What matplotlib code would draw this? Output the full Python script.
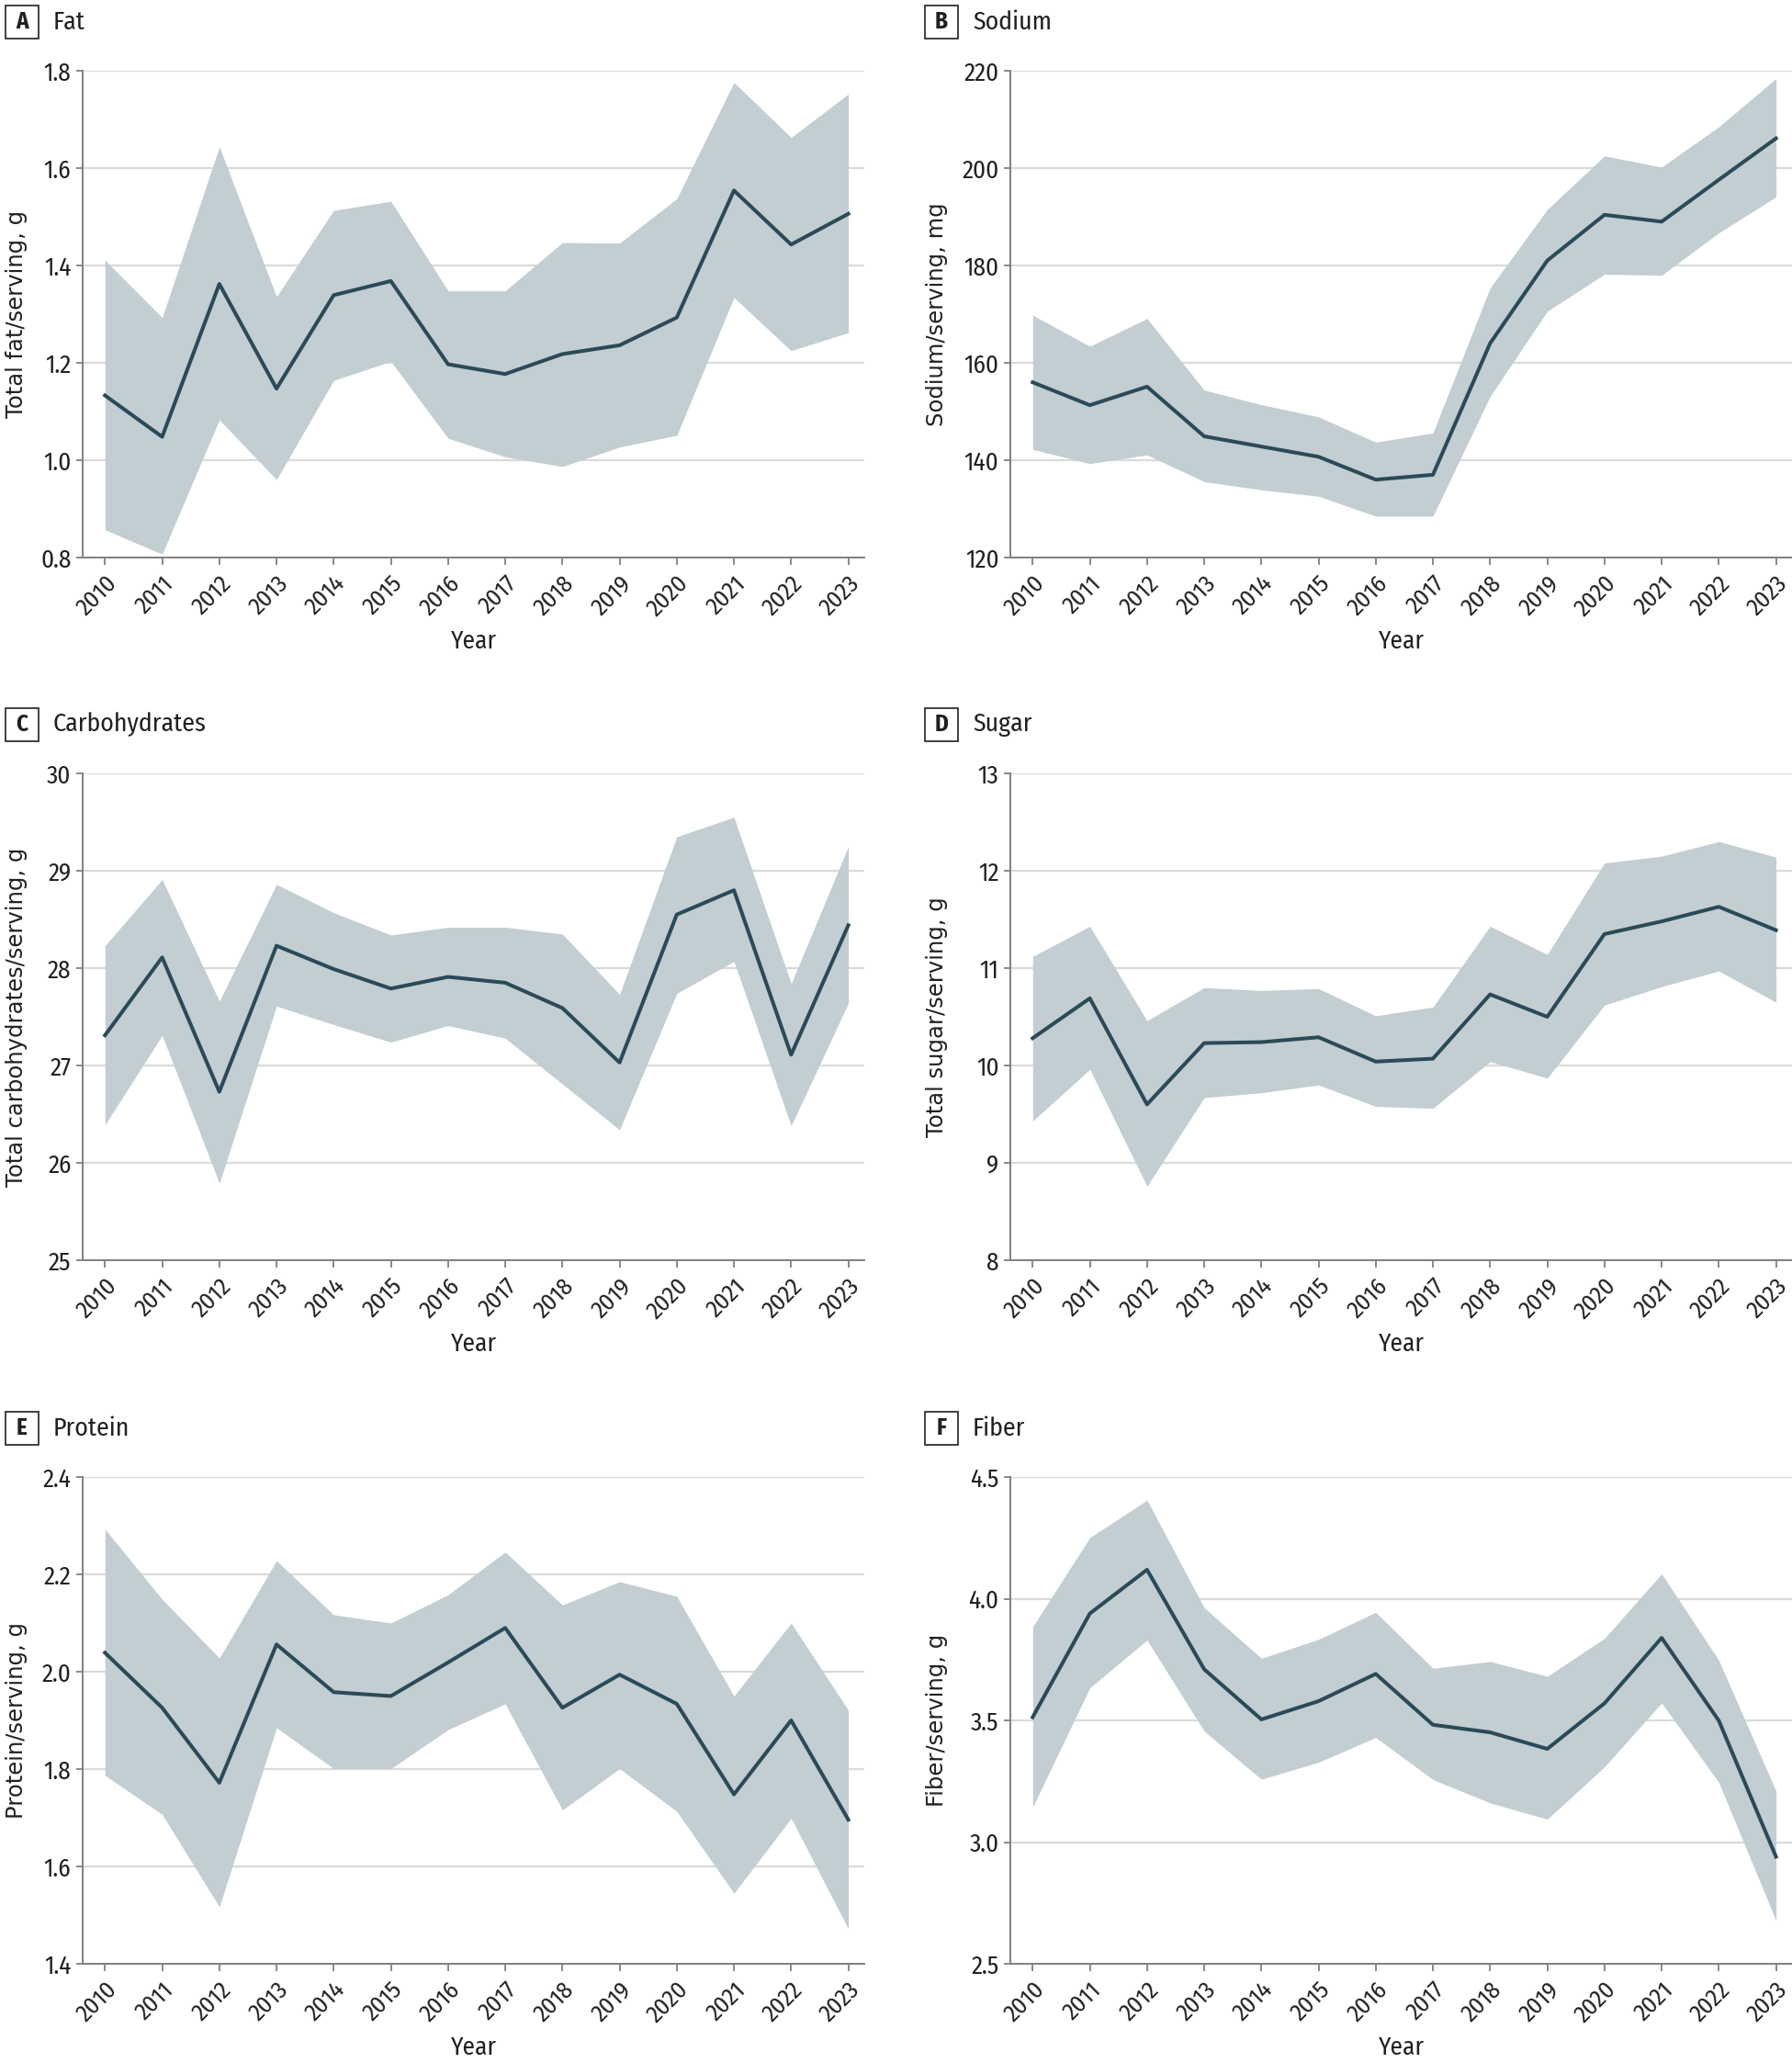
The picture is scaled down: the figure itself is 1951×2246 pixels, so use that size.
import matplotlib
matplotlib.use("Agg")
import matplotlib.pyplot as plt
from matplotlib.patches import Rectangle

# ---- data ----
years = list(range(2010, 2024))

fat_mean = [1.133, 1.048, 1.362, 1.147, 1.339, 1.368, 1.197, 1.177, 1.218, 1.236, 1.293, 1.554, 1.443, 1.506]
fat_hi = [1.411, 1.293, 1.644, 1.336, 1.513, 1.532, 1.348, 1.348, 1.447, 1.446, 1.537, 1.776, 1.663, 1.752]
fat_lo = [0.857, 0.807, 1.083, 0.960, 1.164, 1.203, 1.045, 1.007, 0.987, 1.027, 1.051, 1.334, 1.225, 1.262]

sodium_mean = [156.0, 151.3, 155.1, 144.9, 142.8, 140.7, 136.0, 137.0, 164.0, 181.0, 190.4, 189.0, 197.6, 206.1]
sodium_hi = [169.8, 163.4, 169.1, 154.4, 151.4, 148.9, 143.7, 145.6, 175.4, 191.5, 202.5, 200.2, 208.5, 218.4]
sodium_lo = [142.2, 139.3, 141.1, 135.6, 133.9, 132.6, 128.5, 128.5, 153.1, 170.6, 178.2, 178.0, 186.7, 194.1]

carb_mean = [27.31, 28.11, 26.73, 28.23, 27.99, 27.79, 27.91, 27.85, 27.59, 27.03, 28.55, 28.80, 27.11, 28.44]
carb_hi = [28.23, 28.91, 27.66, 28.86, 28.57, 28.34, 28.42, 28.42, 28.35, 27.73, 29.35, 29.55, 27.84, 29.25]
carb_lo = [26.39, 27.31, 25.79, 27.61, 27.42, 27.24, 27.41, 27.28, 26.81, 26.34, 27.74, 28.07, 26.38, 27.64]

sugar_mean = [10.28, 10.69, 9.60, 10.23, 10.24, 10.29, 10.04, 10.07, 10.73, 10.50, 11.35, 11.48, 11.63, 11.39]
sugar_hi = [11.12, 11.43, 10.46, 10.80, 10.77, 10.79, 10.51, 10.60, 11.43, 11.14, 12.08, 12.15, 12.30, 12.14]
sugar_lo = [9.43, 9.96, 8.76, 9.67, 9.72, 9.80, 9.58, 9.56, 10.04, 9.87, 10.62, 10.81, 10.97, 10.65]

protein_mean = [2.039, 1.926, 1.772, 2.056, 1.958, 1.950, 2.019, 2.090, 1.926, 1.994, 1.934, 1.748, 1.900, 1.696]
protein_hi = [2.293, 2.149, 2.028, 2.228, 2.117, 2.100, 2.158, 2.246, 2.137, 2.185, 2.155, 1.950, 2.100, 1.921]
protein_lo = [1.787, 1.707, 1.517, 1.885, 1.801, 1.801, 1.881, 1.934, 1.716, 1.801, 1.713, 1.545, 1.699, 1.472]

fiber_mean = [3.513, 3.939, 4.119, 3.710, 3.504, 3.579, 3.691, 3.482, 3.451, 3.383, 3.570, 3.839, 3.499, 2.940]
fiber_hi = [3.885, 4.251, 4.405, 3.963, 3.755, 3.833, 3.944, 3.714, 3.742, 3.681, 3.837, 4.102, 3.747, 3.210]
fiber_lo = [3.144, 3.634, 3.830, 3.456, 3.258, 3.328, 3.430, 3.257, 3.161, 3.094, 3.309, 3.572, 3.245, 2.678]

letters = ["A", "B", "C", "D", "E", "F"]
titles = ["Fat", "Sodium", "Carbohydrates", "Sugar", "Protein", "Fiber"]
ylabels = ["Total fat/serving, g", "Sodium/serving, mg", "Total carbohydrates/serving, g",
           "Total sugar/serving, g", "Protein/serving, g", "Fiber/serving, g"]
yticks = [[0.8, 1.0, 1.2, 1.4, 1.6, 1.8],
          [120, 140, 160, 180, 200, 220],
          [25, 26, 27, 28, 29, 30],
          [8, 9, 10, 11, 12, 13],
          [1.4, 1.6, 1.8, 2.0, 2.2, 2.4],
          [2.5, 3.0, 3.5, 4.0, 4.5]]
ytick_fmt = ["{:.1f}", "{:.0f}", "{:.0f}", "{:.0f}", "{:.1f}", "{:.1f}"]

series = [(fat_mean, fat_lo, fat_hi), (sodium_mean, sodium_lo, sodium_hi),
          (carb_mean, carb_lo, carb_hi), (sugar_mean, sugar_lo, sugar_hi),
          (protein_mean, protein_lo, protein_hi), (fiber_mean, fiber_lo, fiber_hi)]

# ---- style ----
narrow = ["Fira Sans Condensed", "Roboto Condensed", "DejaVu Sans"]
line_col = "#2b4a58"
fill_col = "#c2ced2"
grid_col = "#dadada"
spine_col = "#808080"
text_col = "#231f20"

W, H = 1951, 2246
fig = plt.figure(figsize=(W / 100, H / 100), dpi=100)

col_left = [90, 1100]
col_w = 851
row_top = [77, 842, 1608]
row_h = 530
box_x = [6, 1007]
ylab_x = [-0.071, -0.080]

for i in range(6):
    r, c = divmod(i, 2)
    left = col_left[c] / W
    bottom = 1 - (row_top[r] + row_h) / H
    ax = fig.add_axes([left, bottom, col_w / W, row_h / H])
    m, lo, hi = series[i]

    ax.fill_between(years, lo, hi, color=fill_col, linewidth=0, zorder=2)
    ax.plot(years, m, color=line_col, linewidth=2.9, zorder=3)

    ax.set_xlim(2009.61, 2023.28)
    ax.set_ylim(yticks[i][0], yticks[i][-1])
    ax.set_yticks(yticks[i])
    ax.set_yticklabels([ytick_fmt[i].format(v) for v in yticks[i]], fontfamily=narrow,
                       fontsize=19.5, color=text_col)
    ax.set_xticks(years)
    ax.set_xticklabels([str(y) for y in years], rotation=45, ha="right", va="top",
                       rotation_mode="anchor", fontfamily=narrow, fontsize=19, color=text_col)
    ax.tick_params(axis="y", length=5, width=1.3, color=spine_col, pad=4)
    ax.tick_params(axis="x", length=6, width=1.3, color=spine_col, pad=5)

    ax.grid(axis="y", color=grid_col, linewidth=1.6, zorder=1)
    ax.set_axisbelow(True)
    for s in ["top", "right"]:
        ax.spines[s].set_visible(False)
    for s in ["left", "bottom"]:
        ax.spines[s].set_color(spine_col)
        ax.spines[s].set_linewidth(1.4)
        ax.spines[s].set_zorder(4)

    ax.set_ylabel(ylabels[i], fontsize=17.5, color=text_col, fontfamily="DejaVu Sans")
    ax.yaxis.set_label_coords(ylab_x[c], 0.5)
    ax.set_xlabel("Year", fontfamily=narrow, fontsize=19.5, color=text_col, va="baseline")
    ax.xaxis.set_label_coords(0.5, -0.186)

    # panel letter box and title
    cy = row_top[r] - 53
    fig.add_artist(Rectangle((box_x[c] / W, 1 - (cy + 18) / H), 36 / W, 36 / H,
                             transform=fig.transFigure, fill=False, edgecolor=text_col, linewidth=1.2))
    fig.text((box_x[c] + 18) / W, 1 - cy / H, letters[i], ha="center", va="center",
             fontsize=18, fontweight="bold", fontfamily=narrow, color=text_col)
    fig.text((box_x[c] + 52) / W, 1 - cy / H, titles[i], ha="left", va="center",
             fontsize=20, fontfamily=narrow, color=text_col)

fig.savefig("out.png", dpi=100)
